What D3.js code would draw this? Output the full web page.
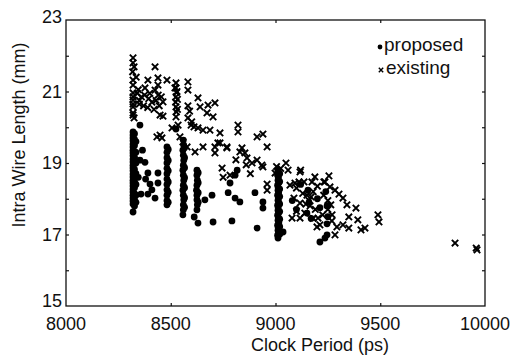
<!DOCTYPE html>
<html><head><meta charset="utf-8">
<script src="https://cdn.jsdelivr.net/npm/d3@7"></script>
<style>
html,body{margin:0;padding:0;background:#fff;}
svg{display:block;font-family:"Liberation Sans",Arial,Helvetica,sans-serif;}
</style></head>
<body>
<svg id="chart" width="512" height="355"></svg>
<script>
// ---- data ----
const xTicks = [8000, 8500, 9000, 9500, 10000];
const yTicks = [15, 17, 19, 21, 23];
const seriesNames = ["proposed", "existing"];
const xTitle = "Clock Period (ps)";
const yTitle = "Intra Wire Length (mm)";

const proposed = [
 [8320,19.87],[8320,19.78],[8320,19.70],[8320,19.62],[8320,19.53],[8320,19.45],[8320,19.36],[8320,19.28],[8320,19.20],
 [8320,19.11],[8320,19.03],[8320,18.94],[8320,18.86],[8320,18.78],[8320,18.69],[8320,18.61],[8320,18.52],[8320,18.44],
 [8320,18.36],[8320,18.27],[8320,18.19],[8320,18.10],[8320,18.02],[8320,17.94],[8320,17.85],[8320,17.63],
 [8327,19.82],[8327,19.66],[8327,19.49],[8327,19.32],[8327,19.16],[8327,18.99],[8327,18.82],[8327,18.65],
 [8327,18.48],[8327,18.31],[8327,18.14],[8327,17.98],[8327,17.80],
 [8334,19.60],[8334,19.30],[8334,19.00],[8334,18.70],[8334,18.40],[8334,18.10],[8334,17.90],
 [8353,20.06],[8353,19.08],[8377,19.02],[8391,18.72],[8439,18.72],[8401,18.41],[8439,18.44],[8358,18.13],
 [8391,18.13],[8425,18.02],[8365,19.36],[8380,18.55],[8410,18.25],[8345,18.60],
 [8482,19.45],[8482,19.30],[8482,19.15],[8482,19.00],[8482,18.85],[8482,18.70],[8482,18.55],[8482,18.40],
 [8482,18.25],[8482,18.10],[8482,17.95],[8482,17.83],
 [8488,19.38],[8488,19.07],[8488,18.78],[8488,18.47],[8488,18.18],[8488,17.90],
 [8525,19.95],
 [8560,19.64],[8562,19.50],[8558,19.36],[8560,19.22],[8562,19.08],[8560,18.94],[8558,18.80],[8560,18.66],
 [8562,18.52],[8560,18.38],[8558,18.24],[8560,18.10],[8562,17.97],[8560,17.83],[8560,17.69],[8558,17.55],
 [8566,19.43],[8566,19.15],[8566,18.87],[8566,18.59],[8566,18.31],[8566,18.03],[8566,17.76],
 [8625,18.80],[8625,18.66],[8627,18.52],[8625,18.38],[8623,18.24],[8625,18.10],[8625,17.97],[8627,17.83],
 [8625,17.69],[8612,17.49],[8630,17.32],
 [8631,18.73],[8631,18.45],[8631,18.17],[8631,17.90],
 [8663,17.97],[8697,18.10],[8702,17.35],
 [8807,18.66],[8783,18.44],[8774,18.17],[8807,18.02],[8830,17.91],[8792,17.38],[8817,18.80],
 [8902,18.17],[8940,17.91],[8940,17.74],[8912,17.18],
 [9012,18.80],[9015,18.73],[9010,18.66],[9014,18.59],[9012,18.52],[9016,18.45],[9010,18.38],[9013,18.31],
 [9012,18.24],[9015,18.17],[9010,18.10],[9014,18.03],[9012,17.96],[9016,17.89],[9010,17.82],[9013,17.75],
 [9012,17.68],[9015,17.61],[9010,17.54],[9014,17.47],[9012,17.40],[9016,17.33],[9010,17.26],[9013,17.19],
 [9012,17.12],[9015,17.05],[9010,16.98],[9012,16.90],
 [9020,18.70],[9020,18.48],[9020,18.27],[9020,18.06],[9020,17.85],[9020,17.64],[9020,17.43],[9020,17.22],[9020,17.01],
 [9036,17.07],
 [9155,18.24],[9160,17.90],[9150,17.60],[9170,17.45],[9200,18.00],[9212,17.75],[9240,18.20],[9246,17.80],
 [9250,17.50],[9246,17.30],[9212,16.79],[9236,16.90],[9246,16.99],[9120,18.40],[9100,17.70],[9080,17.95]
];

const existing = [
 [8320,21.94],[8320,21.80],[8325,21.69],[8318,21.55],[8320,21.32],[8320,21.18],[8320,20.96],[8320,20.85],
 [8320,20.76],[8320,20.65],[8320,20.57],[8320,20.40],[8320,20.34],[8325,20.26],
 [8425,21.69],[8391,21.32],[8439,21.38],[8482,21.32],[8377,21.10],[8439,21.18],[8425,21.04],[8520,21.10],
 [8582,21.27],[8582,21.04],
 [8340,20.95],[8360,20.85],[8375,20.90],[8395,20.80],[8410,20.70],[8430,20.75],[8445,20.60],[8455,20.85],
 [8350,20.65],[8370,20.60],[8390,20.55],[8420,20.50],[8350,20.75],[8400,20.95],[8440,20.90],
 [8463,20.71],[8449,20.34],[8463,20.31],
 [8525,21.24],[8525,21.10],[8527,20.97],[8525,20.85],[8523,20.70],[8525,20.57],[8527,20.43],[8525,20.29],
 [8535,20.06],[8506,19.98],
 [8582,20.60],[8582,20.26],[8630,20.82],[8640,20.57],[8678,20.62],[8711,20.68],[8673,20.40],[8702,20.29],
 [8597,20.06],[8611,20.01],[8630,19.98],[8654,19.92],[8687,19.92],[8735,19.84],[8821,20.06],[8821,19.87],
 [8449,19.78],[8434,19.73],[8458,19.70],[8544,19.73],[8558,19.59],[8578,19.45],[8616,19.31],[8654,19.45],
 [8711,19.45],[8725,19.56],[8768,19.45],[8711,19.28],[8840,19.42],[8854,19.28],[8912,19.73],[8940,19.81],
 [8960,19.45],[8735,19.56],[8768,19.42],[8830,19.31],[8811,19.09],[8864,19.14],[8888,19.00],[8912,19.08],
 [8935,18.94],[8940,18.89],[9050,19.00],[9060,18.80],[9120,18.80],[8745,18.86],[8998,18.72],[9117,18.75],
 [8960,18.41],[8960,18.24],[9093,18.44],[9112,18.47],[9136,18.47],[9174,18.47],[9188,18.61],[9231,18.47],
 [9255,18.64],[9260,18.33],[9284,18.24],[9088,18.02],[9117,17.88],
 [9150,18.10],[9160,17.95],[9170,18.05],[9145,17.85],[9165,17.80],
 [9079,17.46],[9117,17.46],[9203,17.46],[9212,17.27],[9198,17.21],[9269,17.38],[9293,17.21],[9284,16.99],
 [9341,17.83],[9350,17.49],[9384,17.74],[9393,17.41],[9350,17.18],[9408,17.13],[9427,17.18],[9489,17.55],
 [9494,17.35],[9322,18.02],[9236,18.47],[9303,18.13],[9264,17.83],[9322,17.27],
 [9069,18.38],[9100,18.30],[9130,18.15],[9180,18.20],[9200,18.35],[9230,18.10],[9250,17.95],[9100,17.65],
 [9140,17.60],[9190,17.70],[9225,17.55],[9250,17.70],[9270,17.55],[9180,17.45],
 [8783,18.66],[8750,18.60],[8880,18.70],[8860,18.95],[9005,18.90],[9025,18.85],
 [8335,21.40],[8345,21.05],[8532,20.78],[8530,21.00],[8532,20.50],[8590,20.45],[8600,20.15],
 [9857,16.76],[9962,16.57],[9958,16.62]
];

// ---- layout ----
const svg = d3.select("#chart");
const L = 66, R = 485, T = 20, B = 306;
const x = d3.scaleLinear().domain([8000, 10000]).range([L, R]);
const y = d3.scaleLinear().domain([15, 23]).range([B, T]);
const fontSize = 18;

// frame
svg.append("rect").attr("x", L).attr("y", T).attr("width", R - L).attr("height", B - T)
  .attr("fill", "none").attr("stroke", "#111").attr("stroke-width", 1.3);

// axes (inward ticks)
const yMinor = d3.range(16, 23, 1);
svg.append("g").attr("transform", `translate(${L},0)`)
  .call(d3.axisRight(y).tickValues(yMinor).tickSize(3).tickFormat(""))
  .call(g => g.select(".domain").remove());
svg.append("g").attr("transform", `translate(${R},0)`)
  .call(d3.axisLeft(y).tickValues(yMinor).tickSize(3).tickFormat(""))
  .call(g => g.select(".domain").remove());
svg.append("g").attr("transform", `translate(0,${B})`)
  .call(d3.axisTop(x).tickValues([8500, 9000, 9500]).tickSize(3).tickFormat(""))
  .call(g => g.select(".domain").remove());
svg.append("g").attr("transform", `translate(0,${T})`)
  .call(d3.axisBottom(x).tickValues([8500, 9000, 9500]).tickSize(3).tickFormat(""))
  .call(g => g.select(".domain").remove());
svg.selectAll(".tick line").attr("stroke", "#111").attr("stroke-width", 1.2);

// tick labels
svg.append("g").selectAll("text").data(yTicks).join("text")
  .attr("x", L - 4).attr("y", d => y(d) - (d === 15 ? 5 : (d === 23 ? 3 : 0))).attr("dy", "0.35em")
  .attr("text-anchor", "end").attr("font-size", fontSize).attr("fill", "#111")
  .text(d => d);
svg.append("g").selectAll("text").data(xTicks).join("text")
  .attr("x", d => x(d)).attr("y", 329.5)
  .attr("text-anchor", "middle").attr("font-size", fontSize).attr("fill", "#111")
  .text(d => d);

// titles
svg.append("text").attr("x", 320).attr("y", 350.5).attr("text-anchor", "middle")
  .attr("font-size", fontSize).attr("fill", "#111").text(xTitle);
svg.append("text").attr("transform", "translate(25,135) rotate(-90)").attr("text-anchor", "middle")
  .attr("font-size", fontSize).attr("fill", "#111").text(yTitle);

// marks
const crossPath = s => `M${-s},${-s}L${s},${s}M${-s},${s}L${s},${-s}`;
svg.append("g").selectAll("circle").data(proposed).join("circle")
  .attr("cx", d => x(d[0])).attr("cy", d => y(d[1])).attr("r", 3.4).attr("fill", "#000");
svg.append("g").selectAll("path").data(existing).join("path")
  .attr("transform", d => `translate(${x(d[0])},${y(d[1])})`)
  .attr("d", crossPath(3.2)).attr("stroke", "#000").attr("stroke-width", 1.9).attr("fill", "none");

// legend
svg.append("circle").attr("cx", 380).attr("cy", 47).attr("r", 2.4).attr("fill", "#000");
svg.append("text").attr("x", 384).attr("y", 51).attr("font-size", 19).attr("fill", "#111").text(seriesNames[0]);
svg.append("path").attr("transform", "translate(381,70)").attr("d", crossPath(2.2))
  .attr("stroke", "#000").attr("stroke-width", 1.4);
svg.append("text").attr("x", 386).attr("y", 74).attr("font-size", 19).attr("fill", "#111").text(seriesNames[1]);
</script>
</body></html>
